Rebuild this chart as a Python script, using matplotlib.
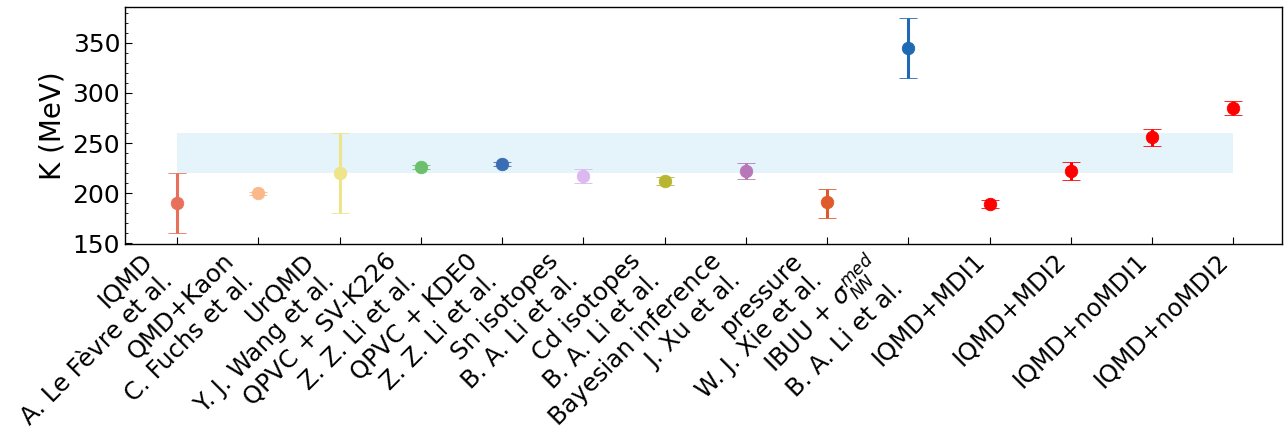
import matplotlib
matplotlib.use("Agg")
import matplotlib.pyplot as plt
from matplotlib.ticker import MultipleLocator

labels = [
    "IQMD\nA. Le Fèvre et al.",
    "QMD+Kaon\nC. Fuchs et al.",
    "UrQMD\nY. J. Wang et al.",
    "QPVC + SV-K226\nZ. Z. Li et al.",
    "QPVC + KDE0\nZ. Z. Li et al.",
    "Sn isotopes\nB. A. Li et al.",
    "Cd isotopes\nB. A. Li et al.",
    "Bayesian inference\nJ. Xu et al.",
    "pressure\nW. J. Xie et al.",
    "IBUU + $\\sigma_{NN}^{med}$\nB. A. Li et al.",
    "IQMD+MDI1",
    "IQMD+MDI2",
    "IQMD+noMDI1",
    "IQMD+noMDI2",
]
values = [190, 200, 220, 226, 229, 217, 212, 222, 191, 345, 189, 222, 256, 285]
err_low = [30, 1.5, 40, 2, 2, 7, 4, 8, 16, 30, 4, 9, 8.5, 7]
err_high = [30, 1.5, 40, 2, 2, 7, 4, 8, 13, 30, 4, 9, 8.5, 7]
colors = ["#e8705a", "#f9b98a", "#eee48a", "#6cbf6c", "#3a6db4", "#dcb8f0",
          "#b8b530", "#b878b8", "#e05a2b", "#1f69b4",
          "#ff0000", "#ff0000", "#ff0000", "#ff0000"]
band_low, band_high = 220, 260

fig = plt.figure(figsize=(12.85, 4.4), dpi=100)
ax = fig.add_axes([125/1285, 1-244/440, (1282-125)/1285, (244-7)/440])

x = list(range(len(values)))
ax.fill_between([x[0], x[-1]], band_low, band_high, color="#87ceeb", alpha=0.22,
                linewidth=0, zorder=1)

for i in x:
    ax.errorbar(i, values[i], yerr=[[err_low[i]], [err_high[i]]], fmt="o",
                color=colors[i], ecolor=colors[i], markersize=9, elinewidth=2.2,
                capsize=6.5, capthick=2.2, markeredgewidth=0.6, zorder=3)

ax.set_xlim(-0.64, 13.6)
ax.set_ylim(149.3, 385.8)
ax.set_xticks(x)
ax.set_xticklabels(labels, rotation=45, ha="right", fontsize=17.5)
ax.yaxis.set_major_locator(MultipleLocator(50))
ax.yaxis.set_minor_locator(MultipleLocator(10))
ax.tick_params(axis="y", which="major", direction="in", length=5, labelsize=18)
ax.tick_params(axis="y", which="minor", direction="in", length=2.5)
ax.tick_params(axis="x", which="major", direction="in", length=5)
ax.set_ylabel("K (MeV)", fontsize=20)
for s in ax.spines.values():
    s.set_linewidth(1.0)

fig.savefig("out.png", dpi=100)
